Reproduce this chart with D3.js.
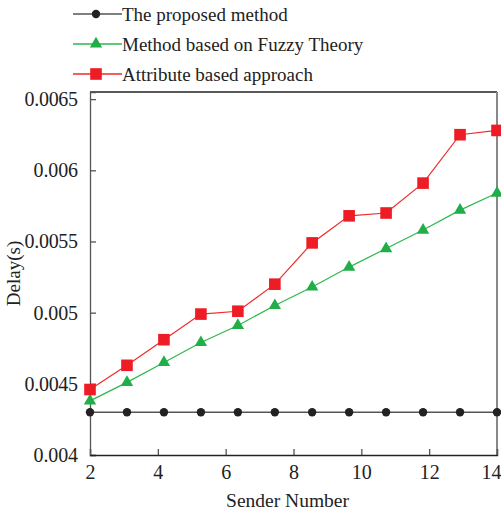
<!DOCTYPE html>
<html>
<head>
<meta charset="utf-8">
<script src="https://cdn.jsdelivr.net/npm/d3@7"></script>
<style>
  body { margin: 0; background: #fff; }
  text { font-family: "Liberation Serif", "Times New Roman", serif; fill: #222; }
</style>
</head>
<body>
<svg id="chart" width="501" height="516"></svg>
<script>
// Data
const senders = [2, 3.09, 4.18, 5.27, 6.36, 7.45, 8.55, 9.64, 10.73, 11.82, 12.91, 14]
const proposed = [0.0043, 0.0043, 0.0043, 0.0043, 0.0043, 0.0043, 0.0043, 0.0043, 0.0043, 0.0043, 0.0043, 0.0043]
const fuzzy = [0.00438, 0.00451, 0.00465, 0.00479, 0.00491, 0.00505, 0.00518, 0.00532, 0.00545, 0.00558, 0.00572, 0.00584]
const attribute = [0.00446, 0.00463, 0.00481, 0.00499, 0.00501, 0.0052, 0.00549, 0.00568, 0.0057, 0.00591, 0.00625, 0.00628]
const xTicks = [2, 4, 6, 8, 10, 12, 14]
const yTicks = [0.004, 0.0045, 0.005, 0.0055, 0.006, 0.0065]
const yTickLabels = ['0.004', '0.0045', '0.005', '0.0055', '0.006', '0.0065']

const series = [
  {name: 'The proposed method', values: proposed, color: '#555', fill: '#222', shape: 'circle'},
  {name: 'Method based on Fuzzy Theory', values: fuzzy, color: '#2db84b', fill: '#1fae48', shape: 'triangle'},
  {name: 'Attribute based approach', values: attribute, color: '#ee2a2a', fill: '#ee1c24', shape: 'square'}
]

const svg = d3.select('#chart')
const margin = {top: 92, right: 4, bottom: 61, left: 90}
const width = +svg.attr('width') - margin.left - margin.right
const height = +svg.attr('height') - margin.top - margin.bottom

const x = d3.scaleLinear().domain([2, 14]).range([0, width])
const y = d3.scaleLinear().domain([0.004, 0.00655]).range([height, 0])

const g = svg.append('g').attr('transform', `translate(${margin.left},${margin.top})`)

// frame
g.append('line').attr('x1', 0).attr('x2', width).attr('y1', 0).attr('y2', 0)
  .attr('stroke', '#222').attr('stroke-width', 1.3)
g.append('line').attr('x1', width).attr('x2', width).attr('y1', 0).attr('y2', height)
  .attr('stroke', '#888').attr('stroke-width', 2)

// axes with inward ticks
const yAxis = g.append('g')
  .call(d3.axisLeft(y).tickValues(yTicks).tickSize(-6).tickPadding(12)
    .tickFormat((d, i) => yTickLabels[i]))
yAxis.select('.domain').attr('stroke', '#555').attr('stroke-width', 1.3)
yAxis.selectAll('.tick line').attr('stroke', '#555').attr('stroke-width', 1.3)
yAxis.selectAll('.tick text').attr('font-size', 20).attr('font-family', 'Liberation Serif').attr('fill', '#222')
  .attr('textLength', function () { return this.textContent.length * 8.9 })

const xAxis = g.append('g').attr('transform', `translate(0,${height})`)
  .call(d3.axisBottom(x).tickValues(xTicks).tickSize(-6).tickPadding(10).tickFormat(d3.format('d')))
xAxis.select('.domain').attr('stroke', '#222').attr('stroke-width', 1.3)
xAxis.selectAll('.tick line').attr('stroke', '#555').attr('stroke-width', 1.3)
xAxis.selectAll('.tick text').attr('font-size', 20).attr('font-family', 'Liberation Serif').attr('fill', '#222')
xAxis.selectAll('.tick text').filter(d => d === 14).attr('text-anchor', 'end').attr('dx', 4)

// axis titles
svg.append('text').attr('transform', `translate(20,${margin.top + height / 2}) rotate(-90)`)
  .attr('text-anchor', 'middle').attr('font-size', 19).text('Delay(s)')
svg.append('text').attr('x', margin.left + width / 2 - 6).attr('y', 507)
  .attr('text-anchor', 'middle').attr('font-size', 19.5).text('Sender Number')

const line = d3.line().x((d, i) => x(senders[i])).y(d => y(d))

function marker (sel, shape, fill) {
  if (shape === 'circle') {
    sel.append('circle').attr('r', 4.2).attr('fill', fill)
  } else if (shape === 'triangle') {
    sel.append('path').attr('d', d3.symbol(d3.symbolTriangle, 66)()).attr('fill', fill)
  } else {
    sel.append('rect').attr('x', -5.8).attr('y', -5.8).attr('width', 11.6).attr('height', 11.6).attr('fill', fill)
  }
}

series.forEach(s => {
  g.append('path').datum(s.values).attr('d', line)
    .attr('fill', 'none').attr('stroke', s.color).attr('stroke-width', s.shape === 'circle' ? 1.6 : 1.2)
  g.selectAll(null).data(s.values).enter().append('g')
    .attr('transform', (d, i) => `translate(${x(senders[i])},${y(d)})`)
    .each(function () { marker(d3.select(this), s.shape, s.fill) })
})

// legend
const legend = svg.append('g').attr('transform', 'translate(73,14)')
series.forEach((s, i) => {
  const row = legend.append('g').attr('transform', `translate(0,${i * 30})`)
  row.append('line').attr('x1', 0).attr('x2', 49).attr('y1', 0).attr('y2', 0)
    .attr('stroke', s.color).attr('stroke-width', 1.3)
  marker(row.append('g').attr('transform', 'translate(23,0)'), s.shape, s.fill)
  row.append('text').attr('x', 49).attr('y', 7).attr('font-size', 19).text(s.name)
})
</script>
</body>
</html>
